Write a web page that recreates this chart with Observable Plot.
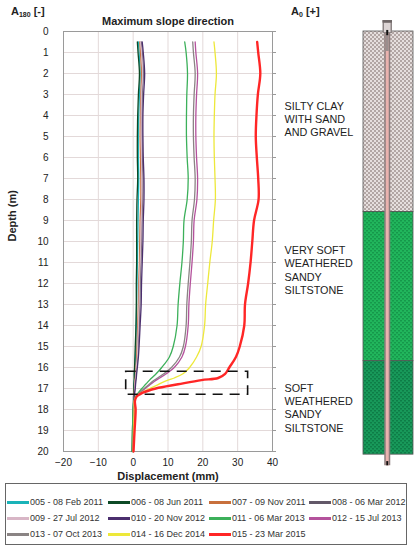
<!DOCTYPE html>
<html><head><meta charset="utf-8">
<script src="https://cdn.jsdelivr.net/npm/d3@7"></script>
<script src="https://cdn.jsdelivr.net/npm/@observablehq/plot@0.6"></script>
<style>
body{margin:0;background:#fff;font-family:"Liberation Sans",Arial,sans-serif;}
#wrap{position:relative;width:418px;height:550px;overflow:hidden;background:#fff;}
.abs{position:absolute;}
.hdr{font-weight:bold;font-size:11px;color:#222;white-space:nowrap;}
.hdr sub{font-size:7px;vertical-align:-2px;}
#legend{position:absolute;left:5px;top:483px;width:402px;height:62px;border:1px solid #666;box-sizing:border-box;
  display:grid;grid-template-columns:101px 101px 100px 100px;grid-auto-rows:16px;padding:10px 0 0 1px;}
.item{display:flex;align-items:center;font-size:9px;color:#333;white-space:nowrap;}
.sw{display:inline-block;width:22px;height:3px;margin-right:1px;}
</style></head><body><div id="wrap"></div>
<script>
// ---------- data ----------
const depths = [0.5,1,2,3,4,5,6,7,8,9,10,11,12,13,14,15,15.5,16,16.3,16.5,16.6,16.8,17,17.2,17.4,17.6,18,19,20];
const s005 = [1.5,1.7,2.0,1.8,1.6,1.5,1.5,1.6,1.5,1.4,1.3,1.2,1.1,1.0,0.9,0.8,0.7,0.5,0.4,0.4,0.3,0.3,0.3,0.2,0.2,0.1,0.0,-0.1,-0.2];
const s006 = [1.2,1.4,1.8,1.5,1.3,1.2,1.2,1.3,1.1,1.0,1.0,1.0,0.9,0.9,0.8,0.6,0.5,0.4,0.3,0.3,0.3,0.2,0.2,0.2,0.1,0.1,0.0,-0.2,-0.3];
const s007 = [1.9,2.1,2.4,2.2,2.1,2.0,2.1,2.2,2.2,2.0,1.9,1.8,1.6,1.5,1.3,1.1,1.0,0.8,0.7,0.6,0.5,0.5,0.4,0.3,0.3,0.2,0.1,0.0,0.0];
const s008 = [2.3,2.6,2.9,2.6,2.5,2.5,2.6,2.8,2.7,2.5,2.4,2.2,2.0,1.9,1.7,1.4,1.3,1.0,0.9,0.8,0.7,0.6,0.5,0.4,0.3,0.2,0.2,0.1,0.0];
const s009 = [2.1,2.4,2.7,2.4,2.3,2.3,2.4,2.5,2.5,2.3,2.2,2.0,1.8,1.7,1.5,1.3,1.2,0.9,0.8,0.7,0.6,0.5,0.5,0.4,0.3,0.2,0.1,0.1,0.0];
const s010 = [2.6,2.9,3.3,3.0,2.8,2.8,2.9,3.1,3.1,2.9,2.8,2.6,2.4,2.3,2.0,1.7,1.5,1.2,1.0,0.9,0.8,0.7,0.6,0.4,0.3,0.2,0.2,0.1,0.0];
const s011 = [14.8,15.2,15.6,15.4,15.3,15.3,15.5,15.8,15.5,14.6,14.4,14.0,13.4,12.9,12.6,11.5,10.4,8.2,6.6,5.3,4.7,3.6,2.5,1.5,0.6,0.2,0.0,-0.2,-0.3];
const s012 = [17.8,18.0,18.5,18.2,18.0,18.0,18.2,18.5,18.3,17.5,17.3,16.9,16.4,16.0,15.8,15.0,14.0,11.8,9.5,7.6,6.6,5.0,3.5,2.0,0.9,0.3,0.2,0.1,0.0];
const s013 = [17.1,17.3,17.8,17.5,17.3,17.3,17.5,17.8,17.6,16.9,16.7,16.3,15.8,15.4,15.2,14.4,13.3,11.0,8.8,7.0,6.1,4.6,3.2,1.8,0.8,0.3,0.2,0.1,0.0];
const s014 = [23.2,23.5,23.9,23.5,23.3,23.2,23.3,23.5,23.6,23.1,22.7,22.0,21.4,20.8,20.5,19.5,18.2,16.2,14.3,11.8,10.0,7.3,4.8,2.3,0.8,0.3,0.3,0.1,0.0];
const s015 = [35.6,35.9,36.5,35.8,35.4,35.2,35.5,35.9,36.0,34.7,34.2,33.7,33.0,32.1,31.9,30.6,29.5,27.6,26.4,24.4,19.6,12.9,6.5,2.8,0.9,0.5,0.7,0.4,0.1];

const seriesNames = ["005 - 08 Feb 2011","006 - 08 Jun 2011","007 - 09 Nov 2011","008 - 06 Mar 2012",
  "009 - 27 Jul 2012","010 - 20 Nov 2012","011 - 06 Mar 2013","012 - 15 Jul 2013",
  "013 - 07 Oct 2013","014 - 16 Dec 2014","015 - 23 Mar 2015"];
const seriesValues = [s005,s006,s007,s008,s009,s010,s011,s012,s013,s014,s015];
const seriesColors = ["#1ab3b8","#0d4a26","#c8703c","#625868","#d8b6c6","#4b2f6e","#3cb05a","#b4529c","#8a8484","#ede83a","#ff2626"];

const xTicks = [-20,-10,0,10,20,30,40];
const yTicks = [0,1,2,3,4,5,6,7,8,9,10,11,12,13,14,15,16,17,18,19,20];
const highlight = [{x1:-2, x2:33, y1:16.2, y2:17.3}];

const layerNames = ["SILTY CLAY\nWITH SAND\nAND GRAVEL","VERY SOFT\nWEATHERED\nSANDY\nSILTSTONE","SOFT\nWEATHERED\nSANDY\nSILTSTONE"];
const layerTops = [0, 8.6, 15.7];
const layerBottoms = [8.6, 15.7, 20.15];
const layerLabelDepths = [4.15, 11.35, 17.9];
const layerFills = ["url(#pClay)","url(#pGreen1)","url(#pGreen2)"];
const pipeTop = -0.52, pipeBottom = 20.68;

// ---------- tables ----------
const rows = seriesNames.flatMap((name, i) => depths.map((d, j) => ({series: name, depth: d, disp: seriesValues[i][j]})));
const redName = seriesNames[10];
const layers = layerNames.map((n, i) => ({name: n, top: layerTops[i], bottom: layerBottoms[i], label: layerLabelDepths[i], fill: layerFills[i]}));

const FONT = "Liberation Sans, Arial, sans-serif";

const main = Plot.plot({
  width: 280, height: 485,
  marginLeft: 63, marginRight: 8, marginTop: 31, marginBottom: 34,
  style: {fontFamily: FONT, fontSize: "10px", color: "#222", background: "transparent", overflow: "visible"},
  x: {domain: [-20, 40], label: null},
  y: {domain: [0, 20], reverse: true, label: null},
  color: {domain: seriesNames, range: seriesColors},
  marks: [
    Plot.gridX(xTicks, {stroke: "#e3d9d9", strokeOpacity: 1}),
    Plot.gridY(yTicks, {stroke: "#e3d9d9", strokeOpacity: 1}),
    Plot.frame({stroke: "#9a9a9a"}),
    Plot.axisY(yTicks, {anchor: "left", tickSize: 0, tickPadding: 15, label: null, fill: "#222"}),
    Plot.axisY(yTicks, {anchor: "right", tickSize: 3, tickFormat: () => "", label: null, stroke: "#9a9a9a"}),
    Plot.axisX(xTicks, {anchor: "bottom", tickSize: 0, tickPadding: 7, label: null, fill: "#222"}),
    Plot.line(rows.filter(d => d.series !== redName), {x: "disp", y: "depth", z: "series", stroke: "series", strokeWidth: 1.3, curve: "catmull-rom"}),
    Plot.line(rows.filter(d => d.series === redName), {x: "disp", y: "depth", z: "series", stroke: "series", strokeWidth: 2.4, curve: "catmull-rom"}),
    Plot.rect(highlight, {x1: "x1", x2: "x2", y1: "y1", y2: "y2", fill: "none", stroke: "#111", strokeWidth: 1.6, strokeDasharray: "10,7"}),
    Plot.text(["Maximum slope direction"], {text: d => d, frameAnchor: "top", dy: -14, fontWeight: "bold", fontSize: 11, fill: "#222"}),
    Plot.text(["Displacement (mm)"], {text: d => d, frameAnchor: "bottom", dy: 28, fontWeight: "bold", fontSize: 11, fill: "#222"}),
    Plot.text(["Depth (m)"], {text: d => d, frameAnchor: "left", dx: -51, rotate: -90, fontWeight: "bold", fontSize: 11, fill: "#222"})
  ]
});

function patternDefs() {
  const defs = d3.create("svg:defs");
  const p1 = defs.append("pattern").attr("id", "pClay").attr("width", 4).attr("height", 4).attr("patternUnits", "userSpaceOnUse");
  p1.append("rect").attr("width", 4).attr("height", 4).attr("fill", "#e6dfde");
  p1.append("rect").attr("width", 2).attr("height", 2).attr("fill", "#b2a6a4");
  p1.append("rect").attr("x", 2).attr("y", 2).attr("width", 2).attr("height", 2).attr("fill", "#b2a6a4");
  const p2 = defs.append("pattern").attr("id", "pGreen1").attr("width", 4).attr("height", 4).attr("patternUnits", "userSpaceOnUse");
  p2.append("rect").attr("width", 4).attr("height", 4).attr("fill", "#21b65c");
  p2.append("rect").attr("width", 2).attr("height", 1.5).attr("fill", "#16984b");
  p2.append("rect").attr("x", 2).attr("y", 2).attr("width", 2).attr("height", 1.5).attr("fill", "#16984b");
  const p3 = defs.append("pattern").attr("id", "pGreen2").attr("width", 4).attr("height", 4).attr("patternUnits", "userSpaceOnUse");
  p3.append("rect").attr("width", 4).attr("height", 4).attr("fill", "#18995a");
  p3.append("rect").attr("width", 2).attr("height", 1.5).attr("fill", "#0e7d47");
  p3.append("rect").attr("x", 2).attr("y", 2).attr("width", 2).attr("height", 1.5).attr("fill", "#0e7d47");
  return defs.node();
}

const pipeX = 0.475;
const log = Plot.plot({
  width: 138, height: 485,
  marginLeft: 83, marginRight: 5, marginTop: 31, marginBottom: 34,
  style: {fontFamily: FONT, fontSize: "10.8px", color: "#222", background: "transparent", overflow: "visible"},
  x: {domain: [0, 1], axis: null},
  y: {domain: [0, 20], reverse: true, axis: null},
  marks: [
    patternDefs,
    Plot.rect(layers, {x1: 0, x2: 1, y1: "top", y2: "bottom", fill: "fill", stroke: "#555", strokeWidth: 0.8}),
    Plot.ruleX([pipeX], {y1: pipeTop, y2: pipeBottom, stroke: "#8a7c7c", strokeWidth: 6}),
    Plot.ruleX([pipeX], {y1: pipeTop, y2: pipeBottom, stroke: "#e9b2ae", strokeWidth: 3}),
    Plot.ruleX([pipeX], {y1: pipeTop, y2: 0.1, stroke: "#8d8585", strokeWidth: 9.5}),
    Plot.ruleX([pipeX], {y1: pipeTop + 0.12, y2: 0.05, stroke: "#ddd5d5", strokeWidth: 6.5}),
    Plot.ruleX([pipeX], {y1: pipeTop, y2: pipeTop + 0.12, stroke: "#6f6767", strokeWidth: 9.5}),
    Plot.ruleX([pipeX], {y1: 0.12, y2: 0.95, stroke: "#9a8e8e", strokeWidth: 3}),
    Plot.ruleX([pipeX], {y1: -0.05, y2: 0.2, stroke: "#111", strokeWidth: 2}),
    Plot.ruleX([pipeX], {y1: pipeBottom - 0.2, y2: pipeBottom, stroke: "#111", strokeWidth: 2}),
    Plot.text(layers, {text: "name", y: "label", frameAnchor: "left", dx: -79, textAnchor: "start", lineAnchor: "middle", lineHeight: 1.24, fill: "#222", fontSize: 10.8})
  ]
});

const wrap = document.getElementById("wrap");
main.classList.add("abs"); main.style.left = "0px"; main.style.top = "0px";
log.classList.add("abs"); log.style.left = "280px"; log.style.top = "0px";
wrap.appendChild(main);
wrap.appendChild(log);

const h1 = document.createElement("div");
h1.className = "abs hdr"; h1.style.left = "11px"; h1.style.top = "5px";
h1.innerHTML = "A<sub>180</sub> [-]";
wrap.appendChild(h1);
const h2 = document.createElement("div");
h2.className = "abs hdr"; h2.style.left = "291px"; h2.style.top = "5px";
h2.innerHTML = "A<sub>0</sub> [+]";
wrap.appendChild(h2);

const legend = document.createElement("div");
legend.id = "legend";
seriesNames.forEach((n, i) => {
  const it = document.createElement("div");
  it.className = "item";
  const sw = document.createElement("span");
  sw.className = "sw"; sw.style.background = seriesColors[i];
  it.appendChild(sw);
  it.appendChild(document.createTextNode(n));
  legend.appendChild(it);
});
wrap.appendChild(legend);
</script></body></html>
